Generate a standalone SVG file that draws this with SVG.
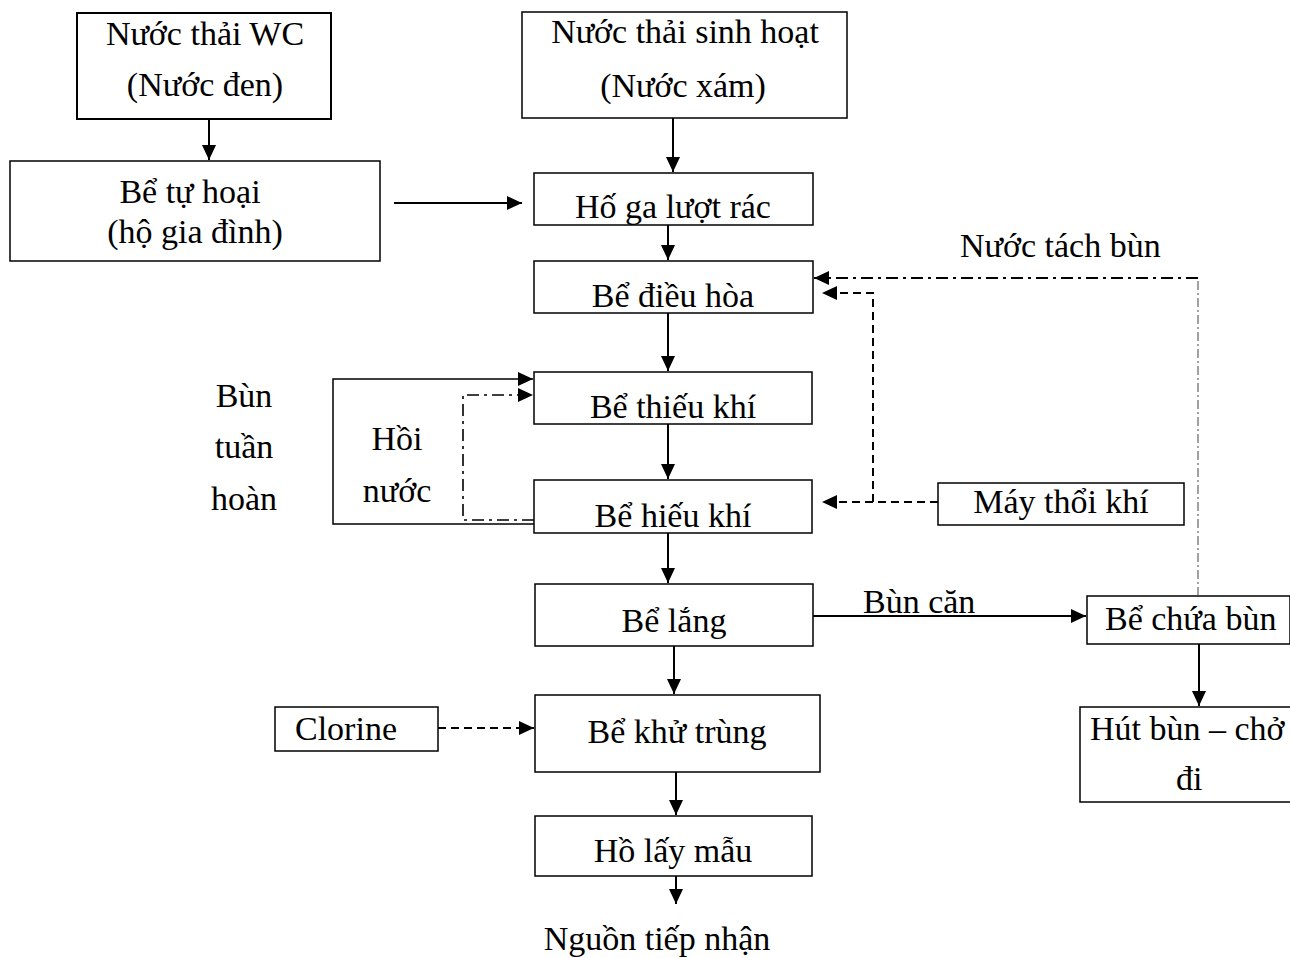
<svg xmlns="http://www.w3.org/2000/svg" width="1290" height="958" viewBox="0 0 1290 958">
<style>
.b{fill:#fff;stroke:#000;stroke-width:1.5}
.t{font-family:"Liberation Serif","Times New Roman",serif;font-size:34px;fill:#000}
.m{text-anchor:middle}
.c{fill:none;stroke:#000;stroke-width:2}
.d{fill:none;stroke:#000;stroke-width:2;stroke-dasharray:8 5}
.dd{fill:none;stroke:#000;stroke-width:1.6;stroke-dasharray:12 5 3 5}
.dt{fill:none;stroke:#444;stroke-width:1;stroke-dasharray:9 3 2 3}
</style>
<defs>
<marker id="a" markerUnits="userSpaceOnUse" markerWidth="16" markerHeight="16" refX="15" refY="8" orient="auto"><path d="M0,1 L15,8 L0,15 Z" fill="#000"/></marker>
</defs>
<g id="n1"><rect class="b" x="77" y="13" width="254" height="106" style="stroke-width:2"/><text class="t m" x="205" y="45">Nước thải WC</text><text class="t m" x="205" y="96">(Nước đen)</text></g>
<g id="n2"><rect class="b" x="10" y="161" width="370" height="100"/><text class="t m" x="190" y="203">Bể tự hoại</text><text class="t m" x="195" y="243">(hộ gia đình)</text></g>
<g id="n3"><rect class="b" x="522" y="12" width="325" height="106"/><text class="t m" x="685" y="43">Nước thải sinh hoạt</text><text class="t m" x="683" y="97">(Nước xám)</text></g>
<g id="n4"><rect class="b" x="534" y="173" width="279" height="52"/><text class="t m" x="673" y="218">Hố ga lượt rác</text></g>
<g id="n5"><rect class="b" x="534" y="261" width="279" height="52"/><text class="t m" x="673" y="307">Bể điều hòa</text></g>
<g id="n6"><rect class="b" x="534" y="372" width="278" height="52"/><text class="t m" x="673" y="418">Bể thiếu khí</text></g>
<g id="n7"><rect class="b" x="534" y="480" width="278" height="53"/><text class="t m" x="673" y="527">Bể hiếu khí</text></g>
<g id="n8"><rect class="b" x="535" y="584" width="278" height="62"/><text class="t m" x="674" y="632">Bể lắng</text></g>
<g id="n9"><rect class="b" x="535" y="695" width="285" height="77"/><text class="t m" x="677" y="743">Bể khử trùng</text></g>
<g id="n10"><rect class="b" x="535" y="816" width="277" height="60"/><text class="t m" x="673" y="862">Hồ lấy mẫu</text></g>
<g id="n11"><text class="t m" x="657" y="950">Nguồn tiếp nhận</text></g>
<g id="n12"><rect class="b" x="275" y="707" width="163" height="44"/><text class="t" x="295" y="740">Clorine</text></g>
<g id="n13"><rect class="b" x="938" y="483" width="246" height="42"/><text class="t m" x="1061" y="513">Máy thổi khí</text></g>
<g id="n14"><rect class="b" x="1087" y="596" width="203" height="48"/><text class="t" x="1105" y="630">Bể chứa bùn</text></g>
<g id="n15"><rect class="b" x="1080" y="707" width="220" height="95"/><text class="t" x="1090" y="740">Hút bùn – chở</text><text class="t" x="1176" y="790">đi</text></g>
<g id="labels">
<text class="t m" x="244" y="407">Bùn</text><text class="t m" x="244" y="458">tuần</text><text class="t m" x="244" y="510">hoàn</text>
<text class="t m" x="397" y="450">Hồi</text><text class="t m" x="397" y="502">nước</text>
<text class="t" x="863" y="613">Bùn căn</text>
<text class="t" x="960" y="257">Nước tách bùn</text>
</g>
<g id="connectors">
<path class="c" d="M209,119 V160" marker-end="url(#a)"/>
<path class="c" d="M394,203 H522" marker-end="url(#a)"/>
<path class="c" d="M673,118 V172" marker-end="url(#a)"/>
<path class="c" d="M668,225 V260" marker-end="url(#a)"/>
<path class="c" d="M668,313 V371" marker-end="url(#a)"/>
<path class="c" d="M668,424 V479" marker-end="url(#a)"/>
<path class="c" d="M668,533 V583" marker-end="url(#a)"/>
<path class="c" d="M674,646 V694" marker-end="url(#a)"/>
<path class="c" d="M676,772 V815" marker-end="url(#a)"/>
<path class="c" d="M676,876 V904" marker-end="url(#a)"/>
<path class="c" d="M813,616 H1086" marker-end="url(#a)"/>
<path class="c" d="M1199,644 V706" marker-end="url(#a)"/>
<path class="c" style="stroke-width:1.5" d="M534,524 H333 V379 H533" marker-end="url(#a)"/>
<path class="dd" d="M534,520 H463 V395 H533" marker-end="url(#a)"/>
<path class="d" d="M438,728 H534" marker-end="url(#a)"/>
<path class="d" d="M938,502 H822" marker-end="url(#a)"/>
<path class="d" d="M873,502 V293 H822" marker-end="url(#a)"/>
<path class="dt" d="M1198,596 V278"/>
<path class="dd" style="stroke-width:2" d="M1198,278 H814" marker-end="url(#a)"/>
</g>
</svg>
